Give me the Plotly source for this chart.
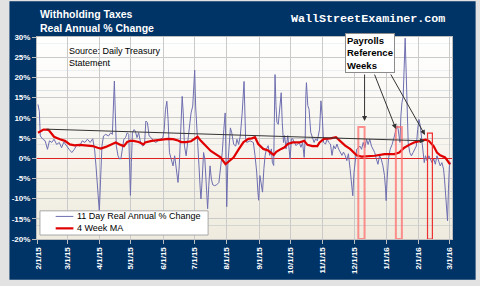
import plotly.graph_objects as go
import pandas as pd

# ---------------- data ----------------
START = pd.Timestamp("2015-02-01")

# 11 day real annual % change (day offset from 2/1/15, percent)
blue_day = [0, 1.3, 2.2, 4.7, 6.9, 9.1, 11, 13.2, 15.4, 17.9, 20.4, 22.6, 24.8, 27.3, 29.8,
            32.4, 34.9, 37.4, 39.9, 42.4, 44.9, 47.4, 50, 52.5, 54.4, 55.6, 56.9, 57.8, 58.8,
            60, 61.3, 62.8, 65, 67.6, 69.8, 71.3, 72.3, 73.2, 74.1, 75.1, 76.7, 78.2, 79.5,
            80.7, 82.3, 83.9, 85.5, 87, 88, 88.6, 89.5, 90.5, 92.1, 93.3, 94.9, 96.5, 98,
            100.2, 102.1, 103.4, 104.9, 106.5, 108.4, 110.6, 112.8, 115.3, 117.8, 119.7, 121,
            122.2, 123.5, 124.7, 126, 127.9, 129.4, 131, 132.6, 134.2, 135.4, 136.4, 137.3,
            138.2, 139.2, 140.4, 142, 143.6, 145.2, 146.7, 148.3, 149.2, 150.2, 151.1, 152.1,
            153, 154.3, 155.5, 156.2, 157.4, 158.7, 159.9, 161.2, 162.6, 163.7, 164.9, 166.2,
            167.5, 169.3, 171.2, 173.4, 175, 176.6, 178.1, 179.4, 180, 180.9, 181.9, 183.2,
            184.4, 185.7, 187.6, 189.5, 190.7, 192.3, 193.9, 195.7, 197.5, 199, 200.1, 203.3,
            206.4, 208, 209.6, 210.8, 211.5, 212.7, 214.3, 215.2, 216.5, 217.7, 219, 220.6,
            222.1, 223.7, 224.6, 225.9, 226.5, 227.2, 228.1, 229, 230.3, 231.6, 233.1, 234.1,
            235.3, 236.3, 237.8, 239.4, 240.4, 241.6, 242.9, 244.1, 245.7, 247.3, 248.8,
            250.4, 252, 253.6, 255.1, 256.1, 256.7, 257.3, 258.6, 259.8, 261.4, 263, 264.6,
            266.1, 267.7, 269.9, 271.2, 272.4, 273.7, 275.6, 277.1, 278.7, 280.3, 281.8,
            283.4, 285, 286.5, 288.1, 289.7, 291.3, 292.8, 294.4, 296, 297.5, 299.1, 300.1,
            300.9, 301.7, 302.9, 304.2, 305.4, 307, 308.6, 310.1, 311.7, 313.3, 314.9, 316.4,
            318, 319.6, 321.1, 322.7, 324.3, 325.8, 327.4, 329, 330.6, 332.1, 333.1, 333.7,
            334.6, 335.9, 337.5, 339.4, 341.6, 343.1, 344.7, 345.6, 346.9, 347.8, 348.8, 350,
            351, 351.9, 352.9, 353.8, 354.8, 356.3, 357.9, 359.5, 361, 362.6, 363.9, 365.1,
            366.4, 367.6, 368.9, 370.2, 371.4, 373, 374.6, 376.1, 377.7, 379.3, 380.8, 382.4,
            384, 385.5, 387.1, 388.7, 389.6, 390.6, 391.5, 392.5, 393.4, 394.3, 395.3]
blue_pct = [13.3, 11.6, 5.5, 4.7, 4.3, 2.2, 4.3, 3.9, 4.7, 3.4, 3.9, 2.6, 4.0, 3.0, 2.2,
            1.4, 2.2, 3.4, 3.0, 4.3, 3.9, 4.7, 3.9, 4.8, 1.8, -1.9, -6.8, -10.1, -13.2,
            -5.2, 3.0, 5.5, 5.9, 5.5, 6.3, 5.9, 11.2, 19.1, 11.2, 3.0, 0.6, -0.2, -0.1,
            1.8, 4.7, 5.1, 6.3, 5.9, -1.9, -9.2, -1.1, 6.3, 7.1, 6.7, 5.1, 6.3, 4.3,
            3.0, 3.4, 9.2, 8.8, 5.5, 5.1, 4.3, 3.9, 4.3, 4.7, 5.1, 7.1,
            12.0, 14.1, 9.6, 1.4, -0.2, -1.9, 0.6, -2.7, -6.0, -1.9, 3.0, 10.4,
            15.3, 11.2, 3.0, 0.6, 4.7, 7.1, 11.2, 12.9, 17.8, 21.8, 12.9, 7.1,
            3.0, -1.9, -7.6, -10.1, -5.2, 1.4, -0.2, -5.2, -12.5, -6.8, -1.9, -5.2,
            -6.6, -6.8, -6.6, -6.0, -2.7, 1.4, 7.1, 11.2, 3.0, -12.0, -1.9, 4.7,
            7.5, 6.3, 3.4, 3.0, 4.7, 3.4, 5.5, 11.2, 19.0, 4.8, 3.9, 4.3,
            3.9, 0.7, -3.4, -8.4, -10.4, -4.3, -6.7, -8.4, -2.6, 0.7, 2.3, 3.1,
            0.7, 2.3, -1.0, -1.8, 8.9, 20.7, 13.0, 8.9, 8.4, 12.1, 16.2, 8.9,
            3.9, 5.6, 2.3, 5.6, 2.3, -0.2, 4.8, 4.8, 3.9, 3.1, 3.5,
            3.9, 2.7, 3.9, 0.2, 4.8, 15.4, 18.7, 13.0, 12.1, 6.4, 4.8, 3.9,
            4.8, 4.3, 7.2, 14.2, 10.5, 3.9, 3.5, 4.8, 3.9, 3.5, 0.7,
            3.1, 2.3, 3.5, 2.3, 1.5, 0.7, 1.5, 0.7, -0.6, 1.1, -2.6, -5.1,
            -6.8, -9.3, -3.5, 0.6, 2.2, 2.6, 3.0, 2.2, 3.9, 2.6, 4.7, 3.4,
            4.7, 3.0, 2.2, 1.4, -0.2, -1.5, 0.6, -0.2, -1.9, -4.3, -7.6, -10.5,
            -5.2, -0.2, 2.2, 3.4, 5.5, 7.1, 8.0, 5.5, 3.9, 10.4, 13.7, 15.3,
            21.9, 29.7, 21.1, 11.2, 3.9, 1.4, 0.6, 1.4, 2.2, 3.0, 7.1, 9.6,
            8.0, 4.7, 1.4, -1.1, 0.6, -0.7, 0.6, -0.2, -1.1, -0.2, -1.5, 0.6,
            -0.7, -1.9, -1.1, -2.7, -5.2, -9.3, -12.5, -15.5, -7.6, -1.9, -1.1]

# 4 week moving average (day offset, percent)
ma_day = [0, 2.2, 5.3, 10.1, 12.6, 15.4, 21, 25.8, 30.5, 35.2, 39.9, 46.2, 52.5, 57.2, 60.3,
          65, 69.7, 74.5, 79.2, 82.3, 85.5, 88.6, 91.7, 96.5, 101.2, 102.7, 109, 115.3, 120,
          124.7, 129.4, 134.2, 137.3, 142, 146.7, 149.9, 153, 156.1, 160.9, 165.6, 170.3,
          175, 179.7, 182.8, 187.6, 192.3, 197, 201.7, 205, 208, 211.1, 215.9, 220.6, 225.9,
          228.4, 233.1, 236.3, 239.4, 244.1, 250.4, 255.1, 258.3, 263, 267.7, 269.9, 274,
          280.3, 285.6, 289.7, 294.4, 299.1, 302, 305.4, 310.1, 322.7, 332.1, 341.5, 346.2,
          351, 355.7, 360.4, 366.7, 371.4, 374.5, 379.2, 382.4, 385.5, 390.2, 394.9]
ma_pct = [6.3, 6.7, 7.1, 7.0, 6.1, 5.3, 4.7, 4.3, 3.4, 3.2, 3.3, 3.2, 3.0, 2.6, 2.4,
          2.8, 3.4, 3.9, 3.3, 3.0, 4.0, 4.3, 4.3, 4.0, 3.4, 3.9, 4.3, 4.5, 4.8,
          4.8, 4.7, 4.4, 4.0, 4.0, 4.2, 4.7, 5.3, 4.3, 3.0, 1.8, 1.0,
          0.2, -1.5, -0.9, 0.2, 2.2, 4.0, 4.8, 4.9, 5.2, 3.5, 2.3, 1.9, 0.8,
          1.6, 2.3, 2.7, 3.5, 3.9, 3.9, 4.3, 3.3, 3.0, 3.0, 3.9, 4.8,
          4.9, 5.2, 4.1, 3.1, 2.3, 1.5, 0.7, 0.4, 0.6, 1.0, 1.0, 1.4,
          2.6, 3.3, 3.9, 4.3, 4.6, 4.3, 3.0, 1.4, 0.7, 0.2, -1.5]

# trend line (start / end: day offset, percent)
trend_start = (6.6, 7.2)
trend_end = (370.8, 4.3)

# payrolls reference weeks (start, end, top %)
payroll_weeks = [("2015-12-05", "2015-12-11", 7.7),
                 ("2016-01-10", "2016-01-15 18:00", 7.7),
                 ("2016-02-09 08:00", "2016-02-14", 6.2)]

month_ticks = pd.date_range("2015-02-01", "2016-03-01", freq="MS")
tick_text = [f"{d.month}/{d.day}/{d.year % 100}" for d in month_ticks]
y_ticks = list(range(-20, 31, 5))

series_names = ["11 Day Real Annual % Change", "4 Week MA"]


def to_date(day):
    return START + pd.to_timedelta(day, unit="D")


# ---------------- figure ----------------
NAVY = "#003366"
BLUE = "#6E6EB0"
RED = "#E00000"
FONT = "Liberation Sans, Arial, sans-serif"

fig = go.Figure()
fig.add_trace(go.Scatter(x=to_date(pd.Series(blue_day)), y=blue_pct, mode="lines",
                         name=series_names[0], line=dict(color=BLUE, width=1),
                         showlegend=False))
fig.add_trace(go.Scatter(x=to_date(pd.Series(ma_day)), y=ma_pct, mode="lines",
                         name=series_names[1], line=dict(color=RED, width=2.2),
                         showlegend=False))

shapes = []
# navy panel behind everything
shapes.append(dict(type="rect", xref="paper", yref="paper", x0=-0.0664, x1=1.0569,
                   y0=-0.202, y1=1.1773, fillcolor=NAVY, line=dict(width=0), layer="below"))
# plot area gradient (white top -> cream bottom)
N = 30
top_c, bot_c = (255, 255, 255), (239, 235, 222)
for i in range(N):
    t = (i + 0.5) / N
    c = tuple(round(bot_c[k] + (top_c[k] - bot_c[k]) * t) for k in range(3))
    shapes.append(dict(type="rect", xref="paper", yref="paper", x0=0, x1=1,
                       y0=i / N, y1=(i + 1) / N + 0.002, fillcolor=f"rgb{c}",
                       line=dict(width=0), layer="below"))
# payroll reference week boxes
rect_colors = [("rgba(255,110,110,0.75)", 2), ("rgba(255,110,110,0.75)", 2), ("#EE3030", 1.2)]
for (x0, x1, top), (col, w) in zip(payroll_weeks, rect_colors):
    shapes.append(dict(type="rect", xref="x", yref="y", x0=x0, x1=x1, y0=-20, y1=top,
                       line=dict(color=col, width=w), fillcolor="rgba(0,0,0,0)"))

# manual legend box
shapes.append(dict(type="rect", xref="paper", yref="paper", x0=0.0071, x1=0.4123,
                   y0=0.0197, y1=0.1394, fillcolor="white",
                   line=dict(color="#A8A8A8", width=1)))
shapes.append(dict(type="line", xref="paper", yref="paper", x0=0.045, x1=0.0877,
                   y0=0.1118, y1=0.1118, line=dict(color=BLUE, width=1)))
shapes.append(dict(type="line", xref="paper", yref="paper", x0=0.045, x1=0.0877,
                   y0=0.0527, y1=0.0527, line=dict(color=RED, width=2.2)))

annotations = [
    dict(text="Withholding Taxes", xref="paper", yref="paper", x=0.0024, y=1.115,
         xanchor="left", yanchor="middle", showarrow=False,
         font=dict(family=FONT, size=10.5, color="white", weight="bold")),
    dict(text="Real Annual % Change", xref="paper", yref="paper", x=0.0024, y=1.043,
         xanchor="left", yanchor="middle", showarrow=False,
         font=dict(family=FONT, size=10.5, color="white", weight="bold")),
    dict(text="WallStreetExaminer.com", xref="paper", yref="paper", x=0.797, y=1.0887,
         xanchor="center", yanchor="middle", showarrow=False,
         font=dict(family="Liberation Mono, Courier New, monospace", size=11.7,
                   color="white", weight="bold")),
    dict(text="Source: Daily Treasury<br>Statement", xref="paper", yref="paper",
         x=0.0727, y=0.9015, xanchor="left", yanchor="middle", align="left",
         showarrow=False, font=dict(family=FONT, size=9, color="black")),
    dict(text="Payrolls<br>Reference<br>Weeks", xref="paper", yref="paper",
         x=0.7417, y=0.9227, xanchor="left", yanchor="middle", align="left",
         showarrow=False, bgcolor="white", bordercolor="#8C8C8C", borderwidth=1,
         borderpad=1, font=dict(family=FONT, size=9.5, color="black", weight="bold")),
    # legend texts
    dict(text=series_names[0], xref="paper", yref="paper", x=0.0924, y=0.1118,
         xanchor="left", yanchor="middle", showarrow=False,
         font=dict(family=FONT, size=9, color="black")),
    dict(text=series_names[1], xref="paper", yref="paper", x=0.0924, y=0.0527,
         xanchor="left", yanchor="middle", showarrow=False,
         font=dict(family=FONT, size=9, color="black")),
    # trend line with arrow
    dict(text="", x=to_date(trend_end[0]).isoformat(), y=trend_end[1],
         ax=to_date(trend_start[0]).isoformat(), ay=trend_start[1],
         xref="x", yref="y", axref="x", ayref="y", showarrow=True,
         arrowhead=2, arrowsize=1, arrowwidth=1, arrowcolor="#333333"),
]
# arrows from the box to the reference weeks (head in data coords, tail offsets in px)
arrow_heads = [(313.0, 9.2, 0, -48), (343.1, 7.2, -22, -56), (370.9, 5.75, -35, -62)]
for d, v, axp, ayp in arrow_heads:
    annotations.append(dict(text="", x=to_date(d).isoformat(), y=v, xref="x", yref="y",
                            ax=axp, ay=ayp, showarrow=True, arrowhead=2, arrowsize=1,
                            arrowwidth=1, arrowcolor="#333333"))

fig.update_layout(
    width=480, height=286, autosize=False,
    margin=dict(l=30, r=28, t=37, b=46, pad=0),
    paper_bgcolor="#E2E2E2",
    plot_bgcolor="rgba(0,0,0,0)",
    shapes=shapes,
    annotations=annotations,
    showlegend=False,
    font=dict(family=FONT),
)
fig.update_xaxes(
    type="date",
    range=["2015-01-31 01:30", "2016-03-03 19:00"],
    tickmode="array", tickvals=month_ticks, ticktext=tick_text,
    tickangle=-90, tickfont=dict(family=FONT, size=8, color="white", weight="bold"),
    ticks="outside", ticklen=4, tickcolor="#BDBDBD",
    showgrid=True, gridcolor="#CACACA", gridwidth=1,
    showline=True, linecolor="#BDBDBD", linewidth=1, mirror=True,
    zeroline=False,
)
fig.update_yaxes(
    range=[-20, 30], tickmode="array", tickvals=y_ticks,
    ticktext=[f"{v}%" for v in y_ticks],
    tickfont=dict(family=FONT, size=8, color="white", weight="bold"),
    ticks="outside", ticklen=4, tickcolor="#BDBDBD",
    showgrid=True, gridcolor="#CACACA", gridwidth=1,
    showline=True, linecolor="#BDBDBD", linewidth=1, mirror=True,
    zeroline=True, zerolinecolor="#E02020", zerolinewidth=1,
)

fig.write_html("out.html")
